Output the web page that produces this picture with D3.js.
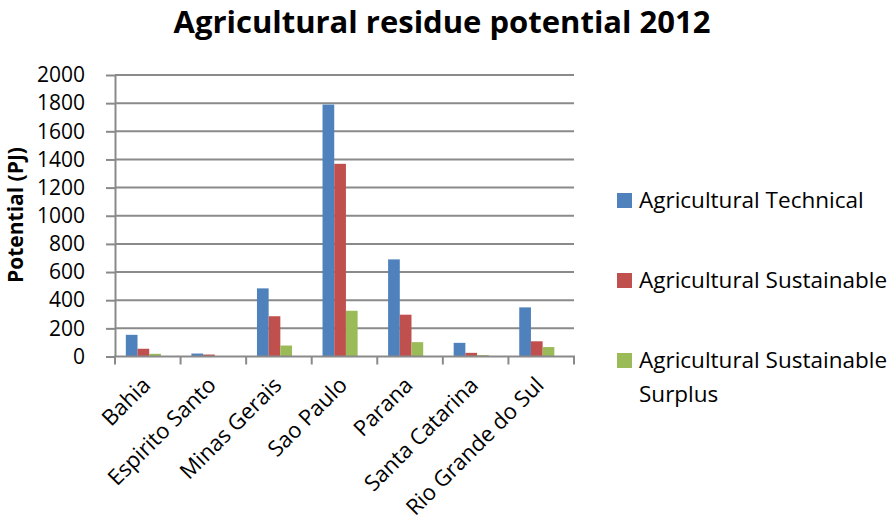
<!DOCTYPE html>
<html><head><meta charset="utf-8">
<script src="https://cdn.jsdelivr.net/npm/d3@7"></script>
<style>body{margin:0;background:#fff}svg{display:block}text{font-family:"Open Sans",sans-serif;fill:#000}</style>
</head><body><svg id="c" width="895" height="526"></svg>
<script>
const categories = ["Bahia","Espirito Santo","Minas Gerais","Sao Paulo","Parana","Santa Catarina","Rio Grande do Sul"];
const seriesNames = ["Agricultural Technical","Agricultural Sustainable","Agricultural Sustainable Surplus"];
const technical = [154, 21, 484, 1790, 690, 97, 349];
const sustainable = [55, 14, 286, 1369, 297, 26, 108];
const surplus = [19, 2, 78, 325, 102, 10, 67];
const yTicks = [0,200,400,600,800,1000,1200,1400,1600,1800,2000];
const colors = ["#4F81BD","#C0504D","#9BBB59"];
const series = [technical, sustainable, surplus];

const svg = d3.select("#c");
const L = 115, R = 574, T = 75, B = 356.5;
const x0 = d3.scaleBand().domain(categories).range([L, R]).padding(0);
const bw = x0.bandwidth();
const x1 = d3.scaleBand().domain([0,1,2]).range([bw*0.165, bw*0.70]).padding(0);
const y = d3.scaleLinear().domain([0,2000]).range([B, T]);

// gridlines
svg.append("g").selectAll("line").data(yTicks.filter(d=>d>0)).join("line")
  .attr("x1", L).attr("x2", R).attr("y1", d=>y(d)).attr("y2", d=>y(d))
  .attr("stroke", "#8a8a8a").attr("stroke-width", 2);

// bars
const g = svg.append("g");
categories.forEach((c, i) => {
  series.forEach((s, k) => {
    g.append("rect").attr("x", x0(c) + x1(k)).attr("width", x1.bandwidth())
      .attr("y", y(s[i])).attr("height", B - y(s[i])).attr("fill", colors[k]);
  });
});

// y axis
const ya = d3.axisLeft(y).tickValues(yTicks).tickFormat(d3.format("d")).tickSize(9).tickSizeOuter(0).tickPadding(21);
const yg = svg.append("g").attr("transform", `translate(${L},0)`).call(ya);
yg.select(".domain").attr("stroke", "#8a8a8a").attr("stroke-width", 2);
yg.selectAll(".tick line").attr("stroke", "#8a8a8a").attr("stroke-width", 2);
yg.selectAll(".tick text").attr("font-size", 21).attr("font-family", "Open Sans").attr("fill","#000");

// x axis
svg.append("line").attr("x1", L-1).attr("x2", R+1).attr("y1", B).attr("y2", B)
  .attr("stroke", "#8a8a8a").attr("stroke-width", 2);
svg.append("g").selectAll("line").data(d3.range(categories.length+1)).join("line")
  .attr("x1", i => L + i*bw).attr("x2", i => L + i*bw).attr("y1", B).attr("y2", B+8)
  .attr("stroke", "#8a8a8a").attr("stroke-width", 2);
svg.append("g").selectAll("text").data(categories).join("text")
  .attr("transform", d => `translate(${x0(d)+bw/2+4},${B+30}) rotate(-45)`)
  .attr("text-anchor", "end").attr("font-size", 22).text(d=>d);

// title
svg.append("text").attr("x", 442).attr("y", 33).attr("text-anchor","middle")
  .attr("font-size", 31).attr("font-weight", "bold").text("Agricultural residue potential 2012");

// y label
svg.append("text").attr("transform", "translate(23,215) rotate(-90)").attr("text-anchor","middle")
  .attr("font-size", 21).attr("font-weight","bold").text("Potential (PJ)");

// legend
const legY = [201, 281, 361];
const lg = svg.append("g");
seriesNames.forEach((n, k) => {
  lg.append("rect").attr("x", 617).attr("y", legY[k]-8).attr("width", 15).attr("height", 15).attr("fill", colors[k]);
  const t = lg.append("text").attr("x", 639).attr("y", legY[k]+7).attr("font-size", 22.5);
  if (k === 2) {
    t.append("tspan").attr("x", 639).text("Agricultural Sustainable");
    t.append("tspan").attr("x", 639).attr("dy", 34).text("Surplus");
  } else t.text(n);
});
</script></body></html>
